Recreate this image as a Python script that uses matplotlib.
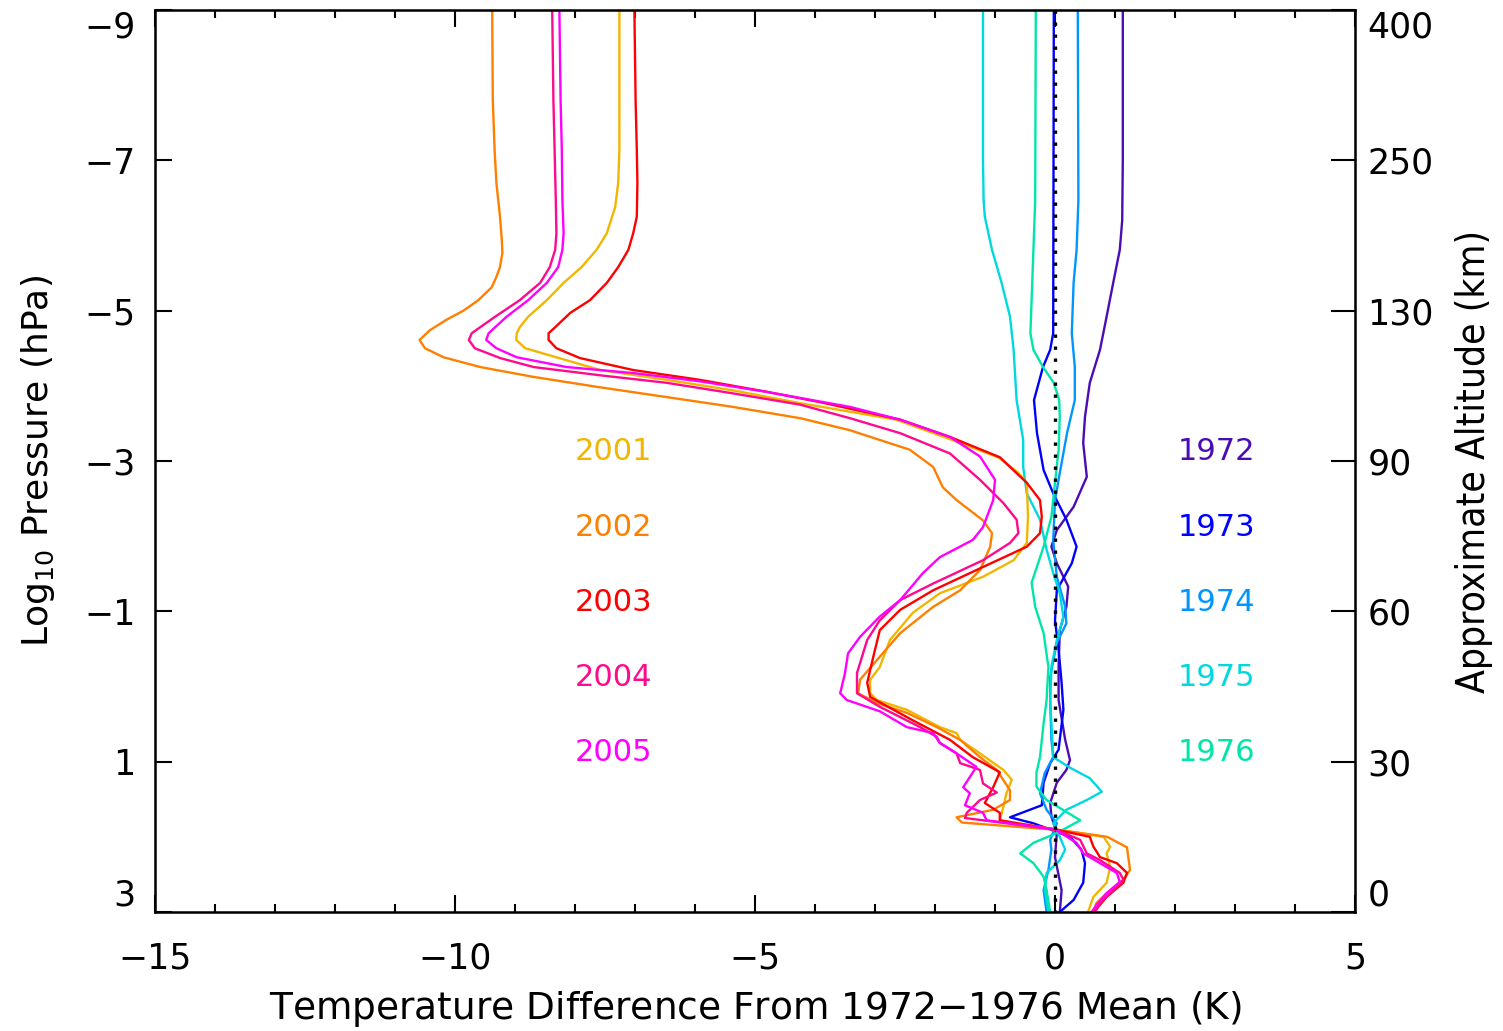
import matplotlib
matplotlib.use("Agg")
import matplotlib.pyplot as plt
from matplotlib.ticker import MultipleLocator

# Профили разности температур (K) по log10 давления (hPa)
p_2001 = [-9, -7.8, -7.14, -6.7, -6.38, -6.03, -5.81, -5.58, -5.37, -5.14, -4.92, -4.78, -4.70, -4.61, -4.5,
          -4.34, -4.21, -4.08, -3.94, -3.77, -3.55, -3.32, -3.05, -2.85, -2.71, -2.26, -1.91, -1.68, -1.46, -1.24,
          -0.98, -0.62, -0.26, -0.09, 0.09, 0.18, 0.31, 0.54, 0.62, 0.71, 0.89, 1.11, 1.24, 1.42, 1.6,
          1.78, 1.9, 2.0, 2.13, 2.22, 2.4, 2.61, 2.8, 3.0]
t_2001 = [-7.26, -7.26, -7.26, -7.28, -7.33, -7.47, -7.64, -7.89, -8.19, -8.47, -8.78, -8.92, -8.97, -8.98, -8.83,
          -8.14, -7.58, -6.47, -5.37, -4.25, -2.65, -1.85, -0.95, -0.62, -0.47, -0.45, -0.47, -0.69, -1.2, -1.92,
          -2.37, -2.75, -2.92, -3.08, -3.08, -2.97, -2.47, -1.92, -1.64, -1.58, -1.25, -0.86, -0.72, -0.81, -0.86,
          -0.92, 0.0, 0.81, 0.92, 0.86, 0.92, 0.86, 0.64, 0.55]

p_2002 = [-9, -7.8, -7.14, -6.7, -6.25, -5.94, -5.77, -5.58, -5.45, -5.31, -5.14, -5.0, -4.88, -4.74, -4.61,
          -4.5, -4.38, -4.25, -4.12, -3.98, -3.85, -3.72, -3.57, -3.41, -3.15, -2.92, -2.65, -2.48, -2.21, -2.04,
          -1.86, -1.55, -1.28, -1.06, -0.71, -0.35, -0.09, 0.09, 0.22, 0.35, 0.54, 0.71, 0.94, 1.11, 1.38,
          1.51, 1.64, 1.74, 1.81, 1.91, 2.0, 2.14, 2.44, 2.57, 2.75, 2.88, 3.0]
t_2002 = [-9.38, -9.37, -9.34, -9.31, -9.25, -9.22, -9.21, -9.25, -9.31, -9.39, -9.61, -9.86, -10.14, -10.42, -10.59,
          -10.5, -10.19, -9.58, -8.7, -7.58, -6.47, -5.37, -4.25, -3.42, -2.42, -2.03, -1.87, -1.64, -1.2, -1.05,
          -1.08, -1.25, -1.58, -2.03, -2.58, -2.97, -3.25, -3.28, -2.97, -2.47, -1.97, -1.58, -1.25, -0.97, -0.75,
          -0.75, -1.03, -1.64, -1.55, 0.08, 0.87, 1.2, 1.25, 1.14, 0.86, 0.69, 0.64]

p_2003 = [-9, -7.8, -7.14, -6.7, -6.25, -6.03, -5.81, -5.58, -5.37, -5.14, -4.97, -4.78, -4.70, -4.61, -4.5,
          -4.37, -4.21, -4.08, -3.92, -3.78, -3.55, -3.32, -3.05, -2.71, -2.48, -2.26, -2.04, -1.86, -1.59, -1.28,
          -1.02, -0.75, -0.39, -0.05, 0.14, 0.45, 0.71, 0.94, 1.14, 1.34, 1.55, 1.68, 1.78, 1.91, 2.0,
          2.13, 2.27, 2.35, 2.48, 2.61, 2.8, 3.0]
t_2003 = [-7.01, -6.99, -6.97, -6.96, -6.97, -7.03, -7.11, -7.28, -7.47, -7.75, -8.08, -8.33, -8.44, -8.44, -8.31,
          -7.92, -7.03, -5.92, -4.8, -3.9, -2.58, -1.75, -0.92, -0.47, -0.25, -0.22, -0.25, -0.47, -1.2, -2.03,
          -2.58, -2.92, -3.03, -3.13, -3.08, -2.37, -1.75, -1.37, -0.92, -1.03, -1.17, -0.92, -0.92, 0.05, 0.58,
          0.64, 0.75, 1.03, 1.2, 1.14, 0.86, 0.65]

p_2004 = [-9, -7.8, -7.14, -6.47, -6.03, -5.81, -5.58, -5.37, -5.14, -4.92, -4.78, -4.70, -4.61, -4.5, -4.37,
          -4.25, -4.14, -4.04, -3.9, -3.75, -3.57, -3.37, -3.1, -2.75, -2.44, -2.22, -2.04, -1.91, -1.68, -1.37,
          -1.15, -0.88, -0.62, -0.18, 0.09, 0.27, 0.54, 0.67, 0.75, 0.89, 1.02, 1.11, 1.29, 1.41, 1.51,
          1.68, 1.75, 1.9, 2.04, 2.22, 2.31, 2.48, 2.57, 2.75, 2.88, 3.0]
t_2004 = [-8.38, -8.36, -8.34, -8.32, -8.31, -8.33, -8.42, -8.58, -8.92, -9.33, -9.58, -9.72, -9.77, -9.67, -9.25,
          -8.69, -7.58, -6.47, -5.37, -4.25, -3.42, -2.58, -1.75, -1.25, -0.86, -0.64, -0.61, -0.75, -1.2, -2.03,
          -2.58, -2.92, -3.13, -3.3, -3.3, -2.92, -2.25, -1.97, -1.92, -1.64, -1.58, -1.25, -1.2, -0.97, -1.25,
          -1.47, -1.5, 0.0, 0.42, 0.53, 0.75, 1.08, 1.14, 0.92, 0.75, 0.67]

p_2005 = [-9, -7.8, -7.14, -6.47, -6.03, -5.81, -5.58, -5.37, -5.14, -4.92, -4.78, -4.70, -4.61, -4.5, -4.38,
          -4.25, -4.17, -4.06, -3.92, -3.72, -3.55, -3.32, -3.06, -2.75, -2.48, -2.12, -1.95, -1.72, -1.51, -1.15,
          -0.93, -0.66, -0.44, -0.18, 0.09, 0.18, 0.33, 0.54, 0.62, 0.75, 0.89, 1.07, 1.34, 1.42, 1.58,
          1.68, 1.78, 1.9, 2.08, 2.22, 2.35, 2.48, 2.6, 2.75, 2.91, 3.0]
t_2005 = [-8.26, -8.24, -8.22, -8.21, -8.19, -8.21, -8.28, -8.47, -8.78, -9.14, -9.33, -9.44, -9.48, -9.31, -8.97,
          -8.14, -7.03, -5.92, -4.81, -3.42, -2.58, -1.75, -1.25, -1.0, -1.03, -1.2, -1.37, -1.92, -2.2, -2.58,
          -2.92, -3.25, -3.45, -3.5, -3.58, -3.47, -2.92, -2.47, -2.03, -1.92, -1.64, -1.31, -1.53, -1.42, -1.5,
          -1.2, -1.14, 0.0, 0.36, 0.47, 0.75, 1.03, 1.08, 0.86, 0.69, 0.61]

p_1972 = [-9, -7.0, -6.2, -5.81, -5.37, -4.92, -4.48, -4.04, -3.59, -3.24, -2.79, -2.39, -2.08, -1.86, -1.64,
          -1.33, -1.06, -0.75, -0.26, 0.18, 0.71, 0.98, 1.11, 1.28, 1.55, 1.73, 1.95, 2.27, 2.71, 3.0]
t_1972 = [1.13, 1.13, 1.12, 1.08, 0.97, 0.86, 0.75, 0.58, 0.5, 0.47, 0.53, 0.31, 0.03, -0.06, 0.03,
          0.22, 0.19, 0.08, 0.06, 0.06, 0.17, 0.25, 0.19, 0.03, -0.08, -0.06, 0.03, 0.0, 0.11, 0.08]

p_1973 = [-9, -4.70, -4.48, -4.25, -3.81, -3.37, -2.88, -2.57, -2.22, -1.86, -1.64, -1.28, -0.88, -0.49, -0.05,
          0.31, 0.84, 1.02, 1.28, 1.58, 1.74, 1.82, 2.0, 2.17, 2.35, 2.61, 2.84, 3.0]
t_1973 = [-0.02, -0.03, -0.08, -0.2, -0.35, -0.3, -0.19, -0.03, 0.19, 0.36, 0.28, 0.03, 0.0, 0.06, 0.11,
          0.14, 0.06, -0.08, -0.19, -0.22, -0.75, -0.36, 0.25, 0.44, 0.5, 0.47, 0.31, 0.08]

p_1974 = [-9, -6.47, -5.81, -5.37, -4.70, -4.25, -3.81, -3.37, -2.84, -2.48, -1.95, -1.46, -1.06, -0.84, -0.58,
          -0.13, 0.18, 0.71, 0.94, 1.15, 1.42, 1.64, 1.82, 2.04, 2.17, 2.44, 2.71, 3.0]
t_1974 = [0.38, 0.39, 0.36, 0.31, 0.28, 0.33, 0.33, 0.2, 0.08, 0.0, -0.03, 0.03, 0.17, 0.19, 0.03,
          -0.08, -0.08, -0.06, -0.03, -0.17, -0.25, -0.14, 0.03, -0.08, -0.06, -0.11, -0.19, -0.14]

p_1975 = [-9, -7.0, -6.47, -6.25, -5.81, -5.37, -4.92, -4.48, -3.81, -3.28, -2.92, -2.57, -2.22, -1.82, -1.51,
          -1.24, -0.92, -0.62, -0.26, 0.18, 0.49, 0.94, 1.08, 1.22, 1.4, 1.51, 1.64, 1.82, 2.0, 2.17,
          2.31, 2.48, 2.71, 3.0]
t_1975 = [-1.2, -1.2, -1.19, -1.17, -1.05, -0.89, -0.75, -0.69, -0.64, -0.53, -0.53, -0.47, -0.25, -0.14, -0.03,
          0.08, 0.14, 0.03, -0.06, -0.08, -0.06, -0.03, 0.25, 0.58, 0.78, 0.53, 0.19, -0.03, 0.08, 0.17,
          0.08, -0.14, -0.17, -0.11]

p_1976 = [-9, -6.47, -5.14, -4.70, -4.48, -4.25, -4.04, -3.81, -3.59, -3.15, -2.71, -2.26, -1.86, -1.38, -1.06,
          -0.71, -0.26, 0.18, 0.49, 0.94, 1.15, 1.33, 1.51, 1.78, 1.95, 2.08, 2.22, 2.35, 2.53, 2.71, 3.0]
t_1976 = [-0.32, -0.33, -0.39, -0.41, -0.36, -0.2, -0.02, 0.07, 0.08, 0.06, 0.0, -0.06, -0.19, -0.39, -0.33,
          -0.19, -0.11, -0.14, -0.19, -0.25, -0.31, -0.31, -0.14, 0.42, 0.03, -0.36, -0.58, -0.36, -0.19, -0.14, -0.08]

recent_years = ['2001', '2002', '2003', '2004', '2005']
recent_colors = ['#F2B600', '#FF8000', '#FF0000', '#FF0A8C', '#FF00FF']
recent_p = [p_2001, p_2002, p_2003, p_2004, p_2005]
recent_t = [t_2001, t_2002, t_2003, t_2004, t_2005]

base_years = ['1972', '1973', '1974', '1975', '1976']
base_colors = ['#4A0CB4', '#0000FF', '#0096FF', '#00D8E0', '#00E6A8']
base_p = [p_1972, p_1973, p_1974, p_1975, p_1976]
base_t = [t_1972, t_1973, t_1974, t_1975, t_1976]

pressure_ticks = [-9, -7, -5, -3, -1, 1, 3]
altitude_labels = ['400', '250', '130', '90', '60', '30', '0']

fs = 25

fig = plt.figure(figsize=(15.03, 10.31), dpi=100)
ax = fig.add_axes([155 / 1503, 1 - 912 / 1031, 1200 / 1503, 902 / 1031])

for p, t, c in zip(base_p, base_t, base_colors):
    ax.plot(t, p, color=c, lw=1.7)
for p, t, c in zip(recent_p, recent_t, recent_colors):
    ax.plot(t, p, color=c, lw=1.7)
# нулевая линия пунктиром
ax.plot([0, 0], [-9, 3], color='black', lw=2.4, linestyle=(0, (1, 2.6)))

# подписи годов
for i, (yr, c) in enumerate(zip(recent_years, recent_colors)):
    ax.text(-8.0, -3.12 + i, yr, color=c, fontsize=fs - 3, ha='left', va='center')
for i, (yr, c) in enumerate(zip(base_years, base_colors)):
    ax.text(2.05, -3.12 + i, yr, color=c, fontsize=fs - 3, ha='left', va='center')

ax.set_xlim(-15, 5)
ax.set_ylim(3, -9)
ax.set_xticks([-15, -10, -5, 0, 5])
ax.xaxis.set_minor_locator(MultipleLocator(1))
ax.set_yticks(pressure_ticks)
ax.tick_params(axis='x', which='both', direction='in', top=True, width=1.5, labelsize=fs, pad=21)
ax.tick_params(axis='x', which='major', length=12)
ax.tick_params(axis='x', which='minor', length=6)
ax.tick_params(axis='y', direction='in', length=12, width=1.5, labelsize=fs, pad=14)
for s in ax.spines.values():
    s.set_linewidth(1.8)

ax2 = ax.twinx()
ax2.set_ylim(3, -9)
ax2.set_yticks(pressure_ticks, labels=altitude_labels)
ax2.tick_params(axis='y', direction='in', length=17, width=1.5, labelsize=fs, pad=9)

ylabs = ax.get_yticklabels()
ylabs[0].set_va('top')
ylabs[-1].set_va('bottom')
rlabs = ax2.get_yticklabels()
rlabs[0].set_va('top')
rlabs[-1].set_va('bottom')

ax.set_xlabel('Temperature Difference From 1972$-$1976 Mean (K)', fontsize=fs + 2)
ax.xaxis.set_label_coords(0.5, -0.085)
ax.set_ylabel('Log$_{10}$ Pressure (hPa)', fontsize=fs + 1)
ax.yaxis.set_label_coords(-0.082, 0.5)
ax2.set_ylabel('Approximate Altitude (km)', fontsize=fs + 3, fontstretch='condensed')
ax2.yaxis.set_label_coords(1.083, 0.5)

fig.savefig('out.png', dpi=100)
